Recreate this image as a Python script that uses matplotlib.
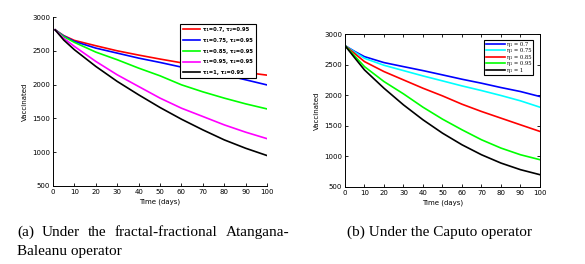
import matplotlib
matplotlib.use('Agg')
import matplotlib.pyplot as plt

# (a) fractal-fractional Atangana-Baleanu
t_ab = [1, 5, 10, 20, 30, 40, 50, 60, 70, 80, 90, 100]
ab_07 = [2810, 2725, 2654, 2575, 2500, 2437, 2378, 2323, 2273, 2229, 2180, 2140]
ab_075 = [2810, 2720, 2639, 2540, 2466, 2392, 2328, 2259, 2205, 2145, 2071, 1995]
ab_085 = [2810, 2710, 2625, 2481, 2368, 2244, 2130, 1997, 1893, 1800, 1715, 1640]
ab_095 = [2810, 2685, 2565, 2343, 2145, 1972, 1800, 1651, 1528, 1404, 1296, 1200]
ab_1 = [2810, 2660, 2516, 2269, 2047, 1849, 1661, 1488, 1330, 1182, 1058, 950]
ab_labels = ['τ₁=0.7, τ₂=0.95', 'τ₁=0.75, τ₂=0.95', 'τ₁=0.85, τ₂=0.95',
             'τ₁=0.95, τ₂=0.95', 'τ₁=1, τ₂=0.95']
ab_colors = ['#ff0000', '#0000ff', '#00ff00', '#ff00ff', '#000000']

# (b) Caputo
t_cap = [0, 5, 10, 20, 30, 40, 50, 60, 70, 80, 90, 100]
cap_07 = [2810, 2715, 2630, 2533, 2467, 2402, 2332, 2261, 2196, 2125, 2060, 1978]
cap_075 = [2810, 2705, 2603, 2489, 2402, 2315, 2234, 2152, 2076, 1995, 1908, 1804]
cap_085 = [2810, 2680, 2549, 2386, 2250, 2114, 1989, 1853, 1734, 1625, 1516, 1408]
cap_095 = [2810, 2640, 2467, 2223, 2022, 1804, 1609, 1435, 1272, 1136, 1027, 946]
cap_1 = [2810, 2610, 2413, 2114, 1842, 1598, 1380, 1190, 1027, 891, 783, 701]
cap_labels = ['η₁ = 0.7', 'η₁ = 0.75', 'η₁ = 0.85', 'η₁ = 0.95', 'η₁ = 1']
cap_colors = ['#0000ff', '#00ffff', '#ff0000', '#00ff00', '#000000']

xticks = list(range(0, 101, 10))
yticks = [500, 1000, 1500, 2000, 2500, 3000]

fig = plt.figure(figsize=(5.85, 2.64), dpi=100)

# left panel
ax1 = fig.add_axes([0.0906, 0.2955, 0.366, 0.640])
for y, lab, c in zip([ab_07, ab_075, ab_085, ab_095, ab_1], ab_labels, ab_colors):
    ax1.plot(t_ab, y, color=c, lw=1.2, label=lab)
ax1.set_xlim(0, 100)
ax1.set_ylim(500, 3000)
ax1.set_xticks(xticks)
ax1.set_yticks(yticks)
ax1.spines['top'].set_visible(False)
ax1.spines['right'].set_visible(False)
ax1.tick_params(direction='in', labelsize=5, length=2, width=0.6, pad=2)
ax1.set_xlabel('Time (days)', fontsize=5, labelpad=3)
ax1.set_ylabel('Vaccinated', fontsize=5, labelpad=3)
leg1 = ax1.legend(loc='upper right', bbox_to_anchor=(0.96, 0.975),
                  frameon=True, fancybox=False, edgecolor='black', framealpha=1,
                  handlelength=3.2, handletextpad=0.5, borderpad=0.6,
                  labelspacing=1.1, prop={'size': 3.8, 'weight': 'bold'})
leg1.get_frame().set_linewidth(0.8)

# right panel
ax2 = fig.add_axes([0.5897, 0.2917, 0.3333, 0.5795])
for y, lab, c in zip([cap_07, cap_075, cap_085, cap_095, cap_1], cap_labels, cap_colors):
    ax2.plot(t_cap, y, color=c, lw=1.2, label=lab)
ax2.set_xlim(0, 100)
ax2.set_ylim(500, 3000)
ax2.set_xticks(xticks)
ax2.set_yticks(yticks)
ax2.tick_params(direction='in', labelsize=5, length=2, width=0.6, pad=2,
                top=True, right=True)
ax2.set_xlabel('Time (days)', fontsize=5, labelpad=3)
ax2.set_ylabel('Vaccinated', fontsize=5, labelpad=3)
leg2 = ax2.legend(loc='upper right', bbox_to_anchor=(0.98, 0.98),
                  frameon=True, fancybox=False, edgecolor='black', framealpha=1,
                  handlelength=3.6, handletextpad=0.4, borderpad=0.35,
                  labelspacing=0.3, prop={'family': 'DejaVu Serif', 'size': 3.8})
leg2.get_frame().set_linewidth(0.8)
for ax in (ax1, ax2):
    for s in ax.spines.values():
        s.set_linewidth(0.7)

# captions (first line of (a) justified between x0 and x1)
cap_font = {'family': 'Liberation Serif', 'size': 11}
words_a = ['(a)', 'Under', 'the', 'fractal-fractional', 'Atangana-']
x0, x1 = 17 / 585, 289 / 585
renderer = fig.canvas.get_renderer()
texts = [fig.text(0, 0.106, w, ha='left', va='baseline', **cap_font) for w in words_a]
widths = [t.get_window_extent(renderer).width / fig.bbox.width for t in texts]
gap = (x1 - x0 - sum(widths)) / (len(words_a) - 1)
x = x0
for t, w in zip(texts, widths):
    t.set_x(x)
    x += w + gap
fig.text(x0, 0.034, 'Baleanu operator', ha='left', va='baseline', **cap_font)
fig.text(0.593, 0.106, '(b) Under the Caputo operator', ha='left', va='baseline',
         **cap_font)

fig.savefig('out.png', dpi=100)
